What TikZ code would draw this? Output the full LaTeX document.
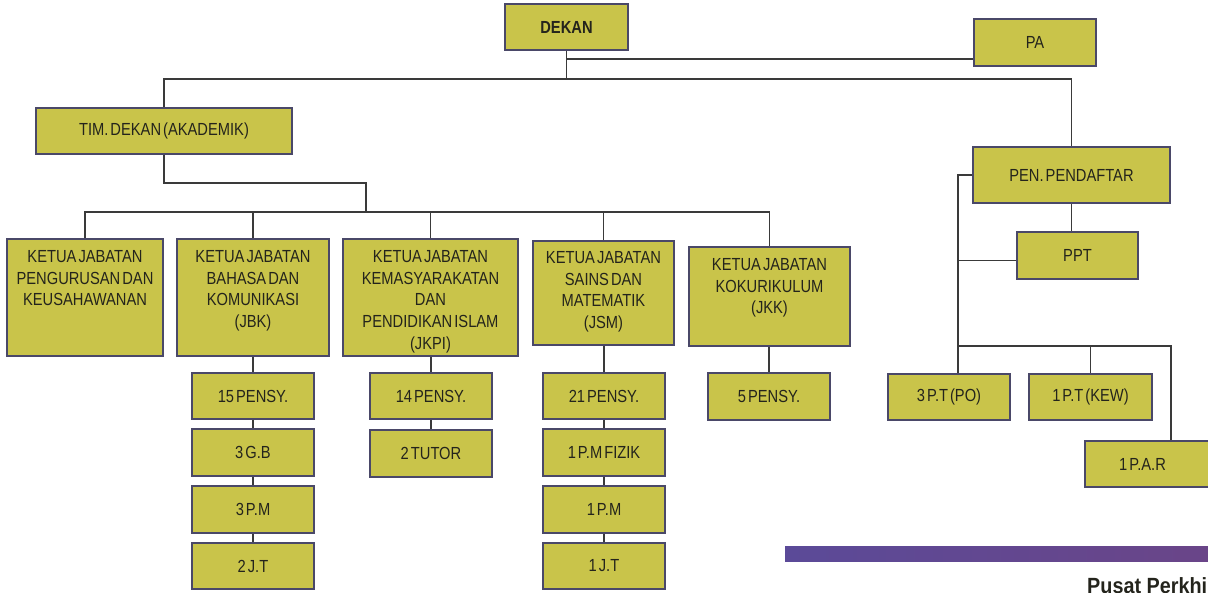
\documentclass[tikz,border=0pt]{standalone}
\usepackage{fontspec}
\setmainfont{Liberation Sans}[FakeStretch=0.84,WordSpace=0.5]
\newfontfamily\pusatfont{Liberation Sans}[FakeStretch=0.9]
\usetikzlibrary{calc}
\definecolor{boxfill}{HTML}{C9C44A}
\definecolor{boxline}{HTML}{4A4868}
\definecolor{wire}{HTML}{3A3A3A}
\definecolor{txt}{HTML}{24241C}
\definecolor{barA}{HTML}{5B4A98}
\definecolor{barB}{HTML}{6A4588}
\newcommand\obox[6]{\node[box, minimum width={#3pt-#2pt}, minimum height={#5pt-#4pt}] (#1) at ({(#2+#3)/2},{(#4+#5)/2}) {#6};}
\begin{document}
\begin{tikzpicture}[x=1pt,y=-1pt,
  box/.style={draw=boxline, line width=1.4pt, fill=boxfill, inner sep=0pt, text=txt,
    font=\fontsize{17.5}{21.7}\selectfont, align=center},
  lbl/.style={inner sep=0pt, text=txt, font=\fontsize{17.5}{21.7}\selectfont, align=center, anchor=north},
  wire/.style={draw=wire, line width=1.3pt}]
\useasboundingbox (0,0) rectangle (1208,592);
\clip (0,0) rectangle (1208,592);
% top level
\obox{dekan}{505}{628}{4}{50}{\bfseries DEKAN}
\obox{pa}{974}{1096}{19}{66}{PA}
\obox{tim}{36}{292}{108}{154}{TIM. DEKAN (AKADEMIK)}
% departments
\obox{k1}{7}{163}{239}{356}{}
\obox{k2}{177}{329}{239}{356}{}
\obox{k3}{343}{518}{239}{356}{}
\obox{k4}{533}{674}{241}{345}{}
\obox{k5}{689}{850}{247}{346}{}
\node[lbl] (k1t) at ($(k1.north)+(0,12)$) {KETUA JABATAN\\PENGURUSAN DAN\\KEUSAHAWANAN};
\node[lbl] (k2t) at ($(k2.north)+(0,12)$) {KETUA JABATAN\\BAHASA DAN\\KOMUNIKASI\\(JBK)};
\node[lbl] (k3t) at ($(k3.north)+(0,12)$) {KETUA JABATAN\\KEMASYARAKATAN\\DAN\\PENDIDIKAN ISLAM\\(JKPI)};
\node[lbl] (k4t) at ($(k4.north)+(0,11)$) {KETUA JABATAN\\SAINS DAN\\MATEMATIK\\(JSM)};
\node[lbl] (k5t) at ($(k5.north)+(0,12)$) {KETUA JABATAN\\KOKURIKULUM\\(JKK)};
% staff chains
\obox{p15}{192}{314}{373}{419}{15 PENSY.}
\obox{gb}{192}{314}{429}{476}{3 G.B}
\obox{pm3}{192}{314}{486}{533}{3 P.M}
\obox{jt2}{192}{314}{543}{589}{2 J.T}
\obox{p14}{370}{492}{373}{419}{14 PENSY.}
\obox{tutor}{370}{492}{430}{477}{2 TUTOR}
\obox{p21}{543}{665}{373}{419}{21 PENSY.}
\obox{fizik}{543}{665}{429}{476}{1 P.M FIZIK}
\obox{pm1}{543}{665}{486}{533}{1 P.M}
\obox{jt1}{543}{665}{543}{589}{1 J.T}
\obox{p5}{708}{830}{373}{420}{5 PENSY.}
% registrar branch
\obox{pen}{973}{1170}{147}{203}{PEN. PENDAFTAR}
\obox{ppt}{1017}{1138}{232}{279}{PPT}
\obox{po}{888}{1010}{374}{420}{3 P.T (PO)}
\obox{kew}{1029}{1152}{374}{420}{1 P.T (KEW)}
\obox{par}{1085}{1222}{441}{487}{\hspace*{-22pt}1 P.A.R}
% connectors top
\coordinate (mtop) at (dekan.south |- 0,79);
\coordinate (dpa) at (dekan.south |- 0,59);
\draw[wire] (dekan.south) -- (mtop);
\draw[wire] (dpa) -- (dpa -| pa.west);
\draw[wire] (tim.north) |- (mtop) -| (pen.north);
\coordinate (tb) at (366,183);
\coordinate (bus) at (366,212);
\draw[wire] (tim.south) |- (tb) -- (bus);
\draw[wire] (k1.north) |- (bus) -| (k5.north);
\draw[wire] (k2.north) -- (k2.north |- bus);
\draw[wire] (k3.north) -- (k3.north |- bus);
\draw[wire] (k4.north) -- (k4.north |- bus);
% chains
\draw[wire] (p15.north |- k2.south) -- (p15.north);
\draw[wire] (p15.south) -- (gb.north);
\draw[wire] (gb.south) -- (pm3.north);
\draw[wire] (pm3.south) -- (jt2.north);
\draw[wire] (p14.north |- k3.south) -- (p14.north);
\draw[wire] (p14.south) -- (tutor.north);
\draw[wire] (p21.north |- k4.south) -- (p21.north);
\draw[wire] (p21.south) -- (fizik.north);
\draw[wire] (fizik.south) -- (pm1.north);
\draw[wire] (pm1.south) -- (jt1.north);
\draw[wire] (p5.north |- k5.south) -- (p5.north);
% right branch
\coordinate (rb) at (958,346);
\coordinate (re) at (1171,346);
\draw[wire] (pen.south) -- (pen.south |- ppt.north);
\draw[wire] (pen.west) -| (rb) -- (re) -- (re |- par.north);
\draw[wire] ($(ppt.west)+(0,5)$) -- ($(ppt.west -| rb)+(0,5)$);
\draw[wire] (rb) -- (rb |- po.north);
\draw[wire] (kew.north) -- (kew.north |- rb);
% bar and caption
\fill[left color=barA, right color=barB] (785,546) rectangle (1215,561);
\node[anchor=north west, inner sep=0pt, text=txt, font=\pusatfont\bfseries\fontsize{22}{24}\selectfont] (pusat) at (1087,577) {Pusat Perkhi};
\end{tikzpicture}
\end{document}
